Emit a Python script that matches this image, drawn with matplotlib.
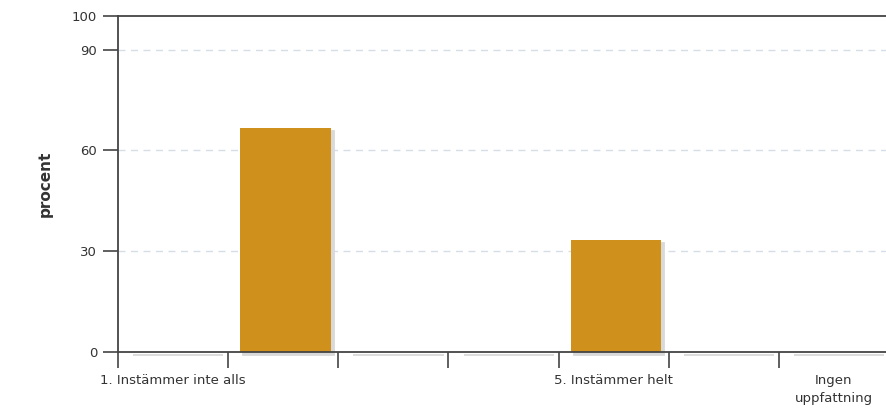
import matplotlib
matplotlib.use("Agg")
import matplotlib.pyplot as plt
import matplotlib.transforms as mtransforms
import numpy as np

categories = ["1. Instämmer inte alls", "", "", "", "5. Instämmer helt", "", "Ingen\nuppfattning"]
values = [0, 66.7, 0, 0, 33.3, 0, 0]
yticks = [0, 30, 60, 90, 100]
ylabel = "procent"

bar_color = "#CF911B"
shadow_color = "#d9d9d9"
axis_color = "#444444"
text_color = "#333333"

fig = plt.figure(figsize=(8.87, 4.19), dpi=100)
ax = fig.add_axes([118/887, 67/419, 771/887, 336/419])

n = len(categories)
x = np.arange(n) + 0.52
width = 0.82

# shadow
offset = mtransforms.offset_copy(ax.transData, fig=fig, x=3, y=-3, units="dots")
ax.bar(x, values, width, color=shadow_color, edgecolor=shadow_color,
       linewidth=1.3, transform=offset, zorder=1, clip_on=False)
ax.bar(x, values, width, color=bar_color, linewidth=0, zorder=2)

ax.set_xlim(0, n)
ax.set_ylim(0, 100)

ax.set_yticks(yticks)
ax.set_yticklabels([str(v) for v in yticks])
for yv in [30, 60, 90]:
    ax.axhline(yv, color="#d5dde6", linestyle=(0, (5, 4)), linewidth=1, zorder=0)

ax.set_xticks(np.arange(n + 1))
ax.set_xticklabels([])
ax.set_xticks(np.arange(n) + 0.5, minor=True)
ax.set_xticklabels(categories, minor=True)
ax.tick_params(axis="x", which="major", length=11.5, width=1.2, color=axis_color, direction="out")
ax.tick_params(axis="x", which="minor", length=0, pad=16, labelsize=9.5, labelcolor=text_color)
ax.tick_params(axis="y", length=11, width=1.2, color=axis_color, pad=4, labelsize=9.5, labelcolor=text_color)

for s in ["left", "top", "bottom"]:
    ax.spines[s].set_color(axis_color)
    ax.spines[s].set_linewidth(1.3)
    ax.spines[s].set_zorder(5)
ax.spines["right"].set_visible(False)

ax.set_ylabel(ylabel, fontsize=11, fontweight="bold", color=text_color, labelpad=14)
for lab in ax.get_xticklabels(minor=True):
    lab.set_verticalalignment("top")
    lab.set_linespacing(1.5)

fig.savefig("out.png", dpi=100)
